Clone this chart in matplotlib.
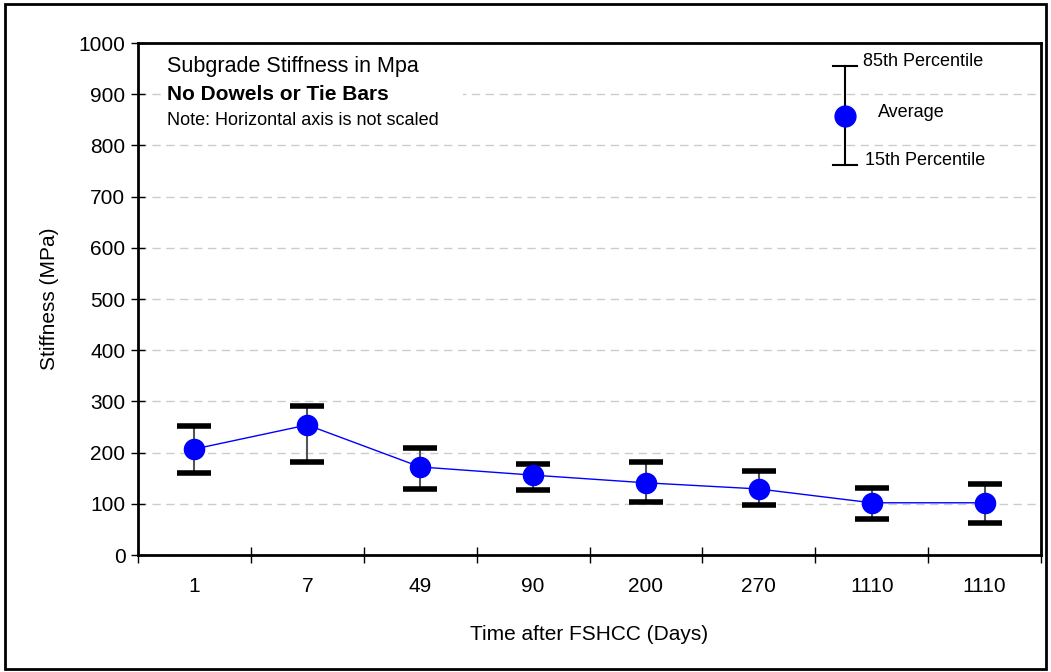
import matplotlib.pyplot as plt
import matplotlib.patches as patches
import numpy as np

plt.rcParams['font.family'] = ['Liberation Sans', 'DejaVu Sans']

# Data
days = ["1", "7", "49", "90", "200", "270", "1110", "1110"]
average = [207, 254, 172, 156, 141, 129, 102, 102]
p85 = [252, 291, 209, 178, 181, 164, 131, 139]
p15 = [160, 182, 129, 127, 103, 98, 70, 63]

x = np.arange(len(days))
avg = np.array(average)
lo = avg - np.array(p15)
hi = np.array(p85) - avg

fig = plt.figure(figsize=(10.51, 6.72), dpi=100)
ax = fig.add_axes([0.1313, 0.1741, 0.8592, 0.7619])

# Outer frame round the whole chart
fig.patches.append(patches.Rectangle((0.005, 0.004), 0.99, 0.99, transform=fig.transFigure,
                                     fill=False, edgecolor="black", linewidth=2))

# Error bars: gray stem, thick black caps
ax.errorbar(x, avg, yerr=[lo, hi], fmt="none", ecolor="#555555", elinewidth=1.5,
            capsize=0, zorder=2)
ax.plot(x, p85, linestyle="none", marker="_", markersize=24, markeredgewidth=4,
        color="black", zorder=3)
ax.plot(x, p15, linestyle="none", marker="_", markersize=24, markeredgewidth=4,
        color="black", zorder=3)
ax.plot(x, avg, color="blue", linewidth=1, marker="o", markersize=14.5,
        markerfacecolor="blue", markeredgecolor="blue", zorder=4)

ax.set_xlim(-0.5, len(days) - 0.5)
ax.set_ylim(0, 1000)
ax.set_yticks(np.arange(0, 1001, 100))
ax.set_xticks(x)
ax.set_xticklabels(days)
ax.set_xticks(np.arange(-0.5, len(days), 1), minor=True)
ax.tick_params(axis="x", which="major", length=0, labelsize=15, pad=16)
ax.tick_params(axis="x", which="minor", direction="inout", length=12, width=1)
ax.tick_params(axis="y", direction="inout", length=10, width=1, labelsize=15, pad=4)
ax.yaxis.grid(True, linestyle=(0, (6, 4)), color="#cccccc", linewidth=1)
ax.set_axisbelow(True)
for s in ax.spines.values():
    s.set_linewidth(2)

ax.set_xlabel("Time after FSHCC (Days)", fontsize=15, labelpad=21)
ax.set_ylabel("Stiffness (MPa)", fontsize=15, labelpad=14)

# Notes, top left, in a white box that hides the grid
ax.add_patch(patches.Rectangle((0.025, 0.83), 0.335, 0.16, transform=ax.transAxes,
                               facecolor="white", edgecolor="none", zorder=1))
ax.text(0.032, 0.954, "Subgrade Stiffness in Mpa", transform=ax.transAxes,
        fontsize=15.5, va="center", ha="left", zorder=5)
ax.text(0.032, 0.900, "No Dowels or Tie Bars", transform=ax.transAxes,
        fontsize=15, fontweight="bold", va="center", ha="left", zorder=5)
ax.text(0.032, 0.848, "Note: Horizontal axis is not scaled", transform=ax.transAxes,
        fontsize=13, va="center", ha="left", zorder=5)

# Legend key, top right
lx, ytop, ymid, ybot = 0.783, 0.955, 0.857, 0.762
ax.plot([lx, lx], [ybot, ytop], color="black", linewidth=1.5, transform=ax.transAxes)
for yy in (ytop, ybot):
    ax.plot([lx - 0.013, lx + 0.013], [yy, yy], color="black", linewidth=1.5,
            transform=ax.transAxes)
ax.plot([lx], [ymid], marker="o", markersize=15, color="blue", transform=ax.transAxes,
        clip_on=False)
ax.text(lx + 0.02, ytop + 0.008, "85th Percentile", transform=ax.transAxes,
        fontsize=13, va="center", ha="left")
ax.text(lx + 0.036, ymid + 0.008, "Average", transform=ax.transAxes,
        fontsize=13, va="center", ha="left")
ax.text(lx + 0.022, ybot + 0.008, "15th Percentile", transform=ax.transAxes,
        fontsize=13, va="center", ha="left")

fig.savefig("out.png", dpi=100)
